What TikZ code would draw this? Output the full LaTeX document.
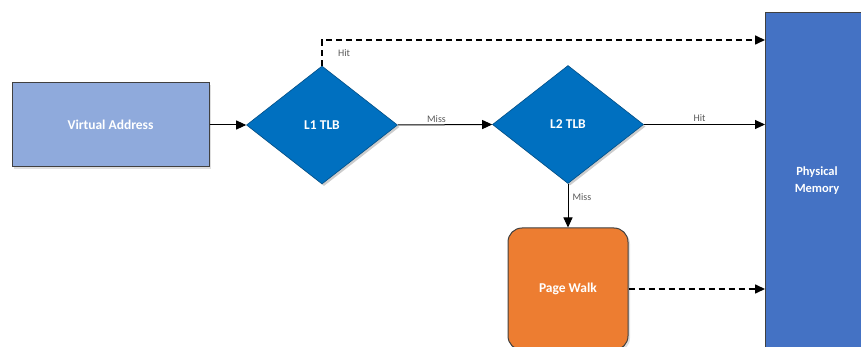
\documentclass[tikz,border=0pt]{standalone}
\usepackage{fontspec}
\setmainfont{Carlito}
\usetikzlibrary{arrows.meta,shapes.geometric,shadows}
\definecolor{vacol}{HTML}{8FAADC}
\definecolor{tlbcol}{HTML}{0070C0}
\definecolor{pwcol}{HTML}{ED7D31}
\definecolor{pmcol}{HTML}{4472C4}
\definecolor{edgecol}{HTML}{404040}
\definecolor{lblcol}{HTML}{595959}
\tikzset{
  boxbase/.style={draw=edgecol, line width=1pt, text=white, font=\fontsize{13.5}{15}\selectfont\bfseries,
    drop shadow={shadow xshift=2pt, shadow yshift=-2pt, opacity=0.25}, inner sep=0pt, align=center},
  vabox/.style={boxbase, fill=vacol, minimum width=197pt, minimum height=84pt},
  tlbbox/.style={boxbase, draw=tlbcol!70!black, line width=0.6pt, fill=tlbcol, diamond, minimum width=151pt, minimum height=118pt, aspect=1.28,
    drop shadow={shadow xshift=2pt, shadow yshift=-2pt, opacity=0.2}},
  pwbox/.style={boxbase, fill=pwcol, rounded corners=14pt, minimum width=120pt, minimum height=122pt},
  pmbox/.style={boxbase, fill=pmcol, minimum width=110pt, minimum height=345pt},
  pmlabel/.style={text=white, font=\fontsize{12.5}{17}\selectfont\bfseries, align=center, inner sep=0pt},
  conn/.style={draw=black, line width=1pt, -{Triangle[length=10pt,width=9pt]}},
  dconn/.style={conn, line width=1.6pt, dash pattern=on 6pt off 4pt},
  lbl/.style={font=\fontsize{10}{11}\selectfont, text=lblcol, inner sep=1pt}
}
\begin{document}
\begin{tikzpicture}[x=1pt,y=-1pt]
\useasboundingbox (0,0) rectangle (861,347);
\clip (0,0) rectangle (861,347);
\node[vabox] (va) at (110.5,125) {Virtual Address};
\node[tlbbox] (l1) at (322,125) {L1 TLB};
\node[tlbbox] (l2) at (568,124.5) {L2 TLB};
\node[pwbox] (pw) at (568,289) {Page Walk};
\node[pmbox, anchor=north west] (pm) at (765,12) {};
\node[pmlabel] (pmtext) at (817,181) {Physical\\Memory};
\coordinate (hitcorner) at (322,40);
\draw[conn] (va.east) -- (l1.west);
\draw[conn] (l1.east) -- node[lbl, above=1pt, pos=0.41] {Miss} (l2.west);
\draw[conn] (l2.east) -- node[lbl, above=1pt, pos=0.46] {Hit} (l2.east -| pm.west);
\draw[conn] (l2.south) -- node[lbl, right=3pt, pos=0.3] {Miss} (pw.north);
\draw[dconn] (pw.east) -- (pw.east -| pm.west);
\draw[dconn] (l1.north) -- (hitcorner) -- (hitcorner -| pm.west);
\node[lbl] (hitlbl) at (344,53) {Hit};
\end{tikzpicture}
\end{document}
